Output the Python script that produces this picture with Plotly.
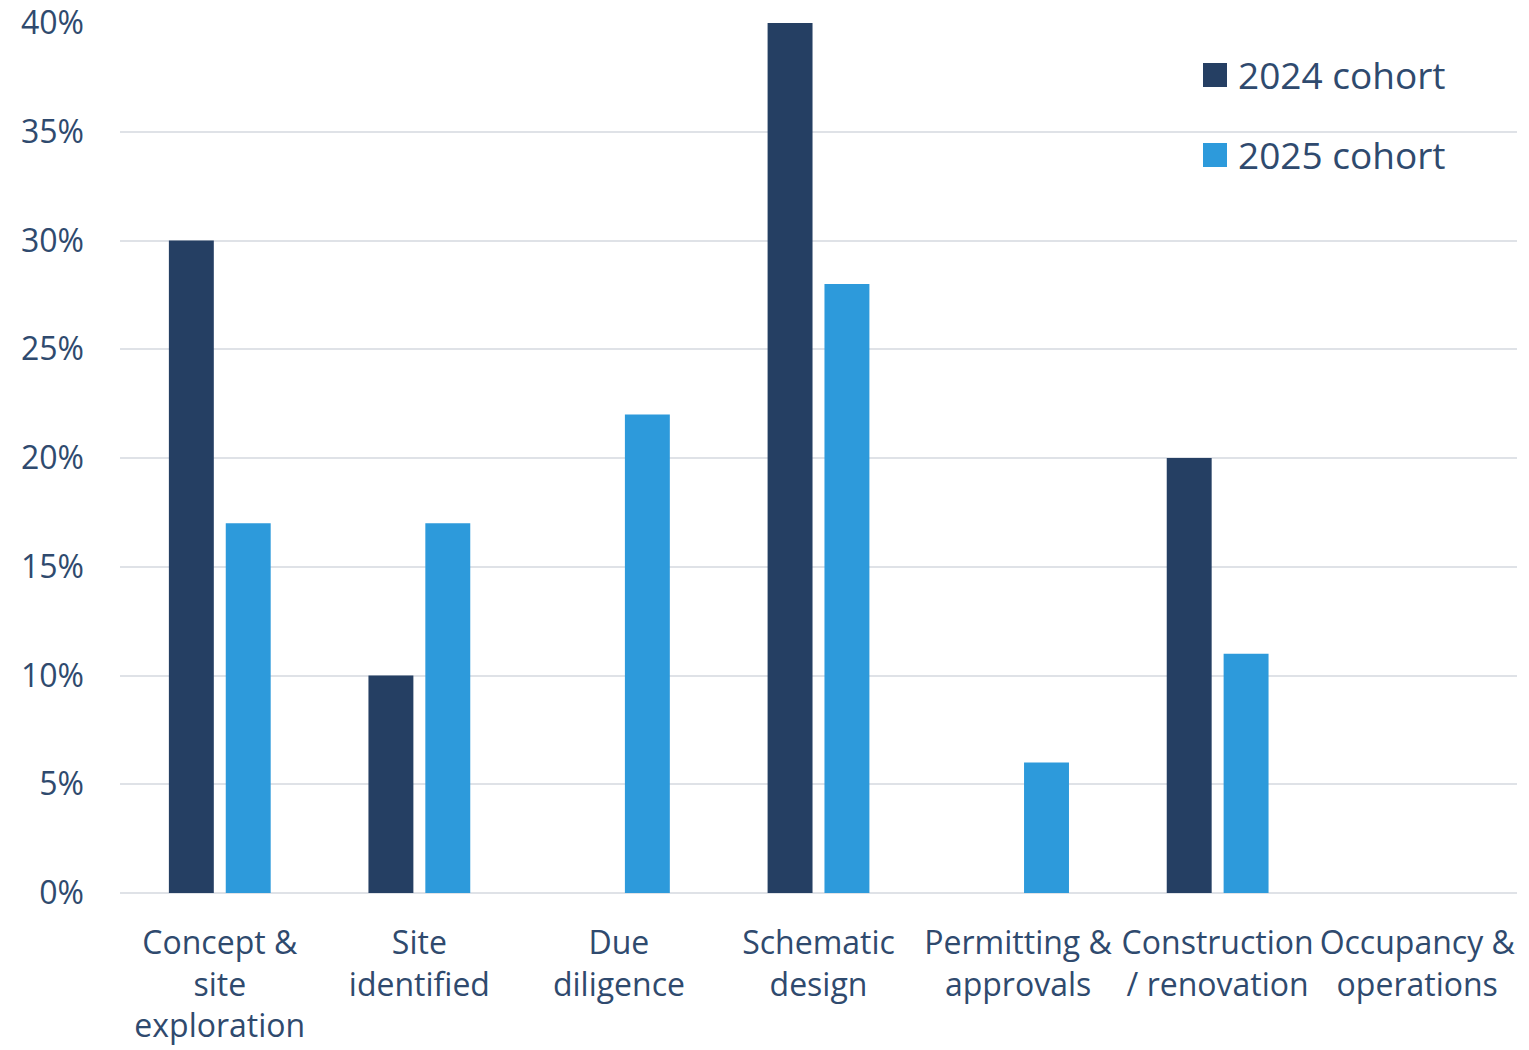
import plotly.graph_objects as go

# Project stage categories and share of each cohort at that stage
stages = [
    "Concept &<br>site<br>exploration",
    "Site<br>identified",
    "Due<br>diligence",
    "Schematic<br>design",
    "Permitting &<br>approvals",
    "Construction<br>/ renovation",
    "Occupancy &<br>operations",
]
series_names = ["2024 cohort", "2025 cohort"]
cohort_2024 = [0.30, 0.10, 0.0, 0.40, 0.0, 0.20, 0.0]
cohort_2025 = [0.17, 0.17, 0.22, 0.28, 0.06, 0.11, 0.0]

y_ticks = [0, 0.05, 0.10, 0.15, 0.20, 0.25, 0.30, 0.35, 0.40]

DARK = "#253F63"
LIGHT = "#2D9ADB"
TEXT = "#2F4A6E"
GRID = "#DFE2E7"
FONT = "Open Sans"
W, H = 1529, 1050
ML, MR, MT, MB = 120, 12, 23, 157

fig = go.Figure()
for name, vals, col in zip(series_names, [cohort_2024, cohort_2025], [DARK, LIGHT]):
    fig.add_trace(go.Bar(x=stages, y=vals, name=name,
                         marker=dict(color=col, line=dict(width=0)),
                         showlegend=False))

# Legend: large colour swatches with labels at the top right
def px_x(px):
    return (px - ML) / (W - ML - MR)

def px_y(py):
    return 1 - (py - MT) / (H - MT - MB)

for i, (name, col) in enumerate(zip(series_names, [DARK, LIGHT])):
    cy = 75 + 80 * i
    fig.add_shape(type="rect", xref="paper", yref="paper",
                  x0=px_x(1203), x1=px_x(1227), y0=px_y(cy + 12), y1=px_y(cy - 12),
                  fillcolor=col, line=dict(width=0))
    fig.add_annotation(xref="paper", yref="paper", x=px_x(1236), y=px_y(cy),
                       xanchor="left", yanchor="middle", showarrow=False,
                       text=name, font=dict(size=37, color=TEXT, family=FONT))

fig.update_layout(
    width=W, height=H,
    margin=dict(l=ML, r=MR, t=MT, b=MB, autoexpand=False),
    paper_bgcolor="white", plot_bgcolor="white",
    barmode="group", bargap=0.43, bargroupgap=0.21,
    font=dict(family=FONT, size=32, color=TEXT),
    showlegend=False,
)
fig.update_xaxes(showgrid=False, showline=False, ticks="", ticklabelstandoff=28,
                 automargin=False, tickfont=dict(size=32, color=TEXT))
fig.update_yaxes(range=[0, 0.40], tickvals=y_ticks, tickformat=".0%",
                 showgrid=True, gridcolor=GRID, gridwidth=2,
                 zeroline=True, zerolinecolor=GRID, zerolinewidth=2,
                 showline=False, ticks="", ticklabelstandoff=35,
                 automargin=False, tickfont=dict(size=32, color=TEXT))

fig.write_html("out.html")
